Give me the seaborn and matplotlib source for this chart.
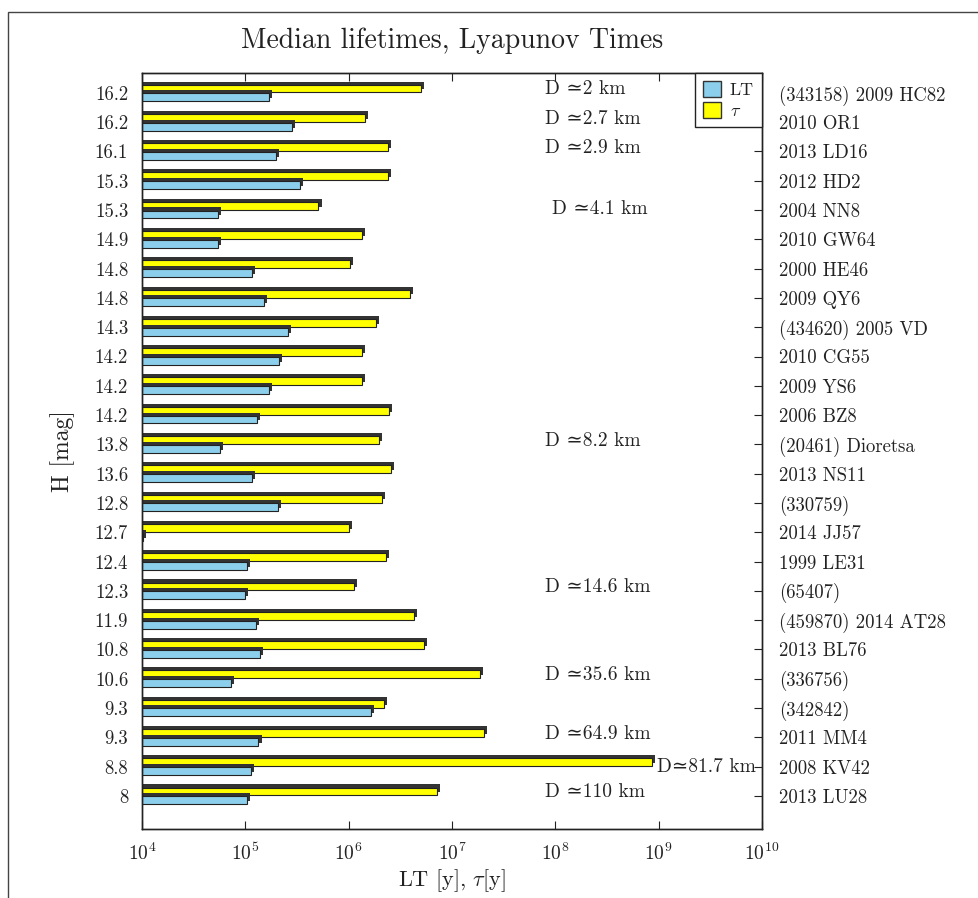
import numpy as np
import pandas as pd
import matplotlib
matplotlib.use("Agg")
import matplotlib.pyplot as plt
import matplotlib.patheffects as pe
from matplotlib.patches import Patch, Rectangle
from matplotlib.ticker import LogLocator, NullLocator
import seaborn as sns

# ---- data (top to bottom) ----
names = ["(343158) 2009 HC82", "2010 OR1", "2013 LD16", "2012 HD2", "2004 NN8",
         "2010 GW64", "2000 HE46", "2009 QY6", "(434620) 2005 VD", "2010 CG55",
         "2009 YS6", "2006 BZ8", "(20461) Dioretsa", "2013 NS11", "(330759)",
         "2014 JJ57", "1999 LE31", "(65407)", "(459870) 2014 AT28", "2013 BL76",
         "(336756)", "(342842)", "2011 MM4", "2008 KV42", "2013 LU28"]
H_mag = ["16.2", "16.2", "16.1", "15.3", "15.3", "14.9", "14.8", "14.8", "14.3", "14.2",
         "14.2", "14.2", "13.8", "13.6", "12.8", "12.7", "12.4", "12.3", "11.9", "10.8",
         "10.6", "9.3", "9.3", "8.8", "8"]
LT = [1.7e5, 2.8e5, 2.0e5, 3.4e5, 5.4e4, 5.4e4, 1.16e5, 1.5e5, 2.6e5, 2.1e5,
      1.7e5, 1.29e5, 5.7e4, 1.17e5, 2.07e5, 1.03e4, 1.03e5, 9.9e4, 1.26e5, 1.4e5,
      7.2e4, 1.66e6, 1.34e5, 1.14e5, 1.03e5]
tau = [5.0e6, 1.43e6, 2.4e6, 2.4e6, 5.1e5, 1.34e6, 1.02e6, 3.9e6, 1.84e6, 1.34e6,
       1.34e6, 2.46e6, 1.95e6, 2.57e6, 2.1e6, 1.01e6, 2.3e6, 1.12e6, 4.25e6, 5.3e6,
       1.85e7, 2.2e6, 2.03e7, 8.6e8, 7.2e6]
diam_labels = {0: "2", 1: "2.7", 2: "2.9", 4: "4.1", 12: "8.2", 17: "14.6",
               20: "35.6", 22: "64.9", 23: "81.7", 24: "110"}

sns.set_style("ticks")
plt.rcParams["font.family"] = ["cmr10", "DejaVu Serif"]
plt.rcParams["mathtext.fontset"] = "cm"
plt.rcParams["axes.formatter.use_mathtext"] = True
plt.rcParams["axes.unicode_minus"] = False
plt.rcParams["text.color"] = "#222222"
plt.rcParams["xtick.color"] = "#222222"
plt.rcParams["ytick.color"] = "#222222"
plt.rcParams["axes.labelcolor"] = "#222222"

blue = "#8ccfec"
yellow = "#ffff00"

df = pd.DataFrame({
    "name": names * 2,
    "value": tau + LT,
    "series": ["tau"] * len(names) + ["LT"] * len(names),
})

fig = plt.figure(figsize=(9.79, 8.98), dpi=100)
ax = fig.add_axes([142 / 979, 1 - 829 / 898, 620 / 979, (829 - 73) / 898])

sns.barplot(data=df, y="name", x="value", hue="series", hue_order=["tau", "LT"],
            palette={"tau": yellow, "LT": blue}, orient="h", order=names,
            width=0.6, gap=0.1, errorbar=None, legend=False, ax=ax,
            edgecolor="#222222", linewidth=0.8, saturation=1)
ax.set_xscale("log")
ax.set_xlim(1e4, 1e10)
ax.set_ylim(25.13, -0.68)

for p in ax.patches:
    p.set_path_effects([pe.SimplePatchShadow(offset=(2.2, 2.2), shadow_rgbFace="#333333", alpha=1.0),
                        pe.Normal()])

ax.xaxis.set_major_locator(LogLocator(base=10, numticks=10))
ax.xaxis.set_minor_locator(NullLocator())
ax.set_yticks(range(len(names)))
ax.set_yticklabels(H_mag, fontsize=13.5)
ax.tick_params(axis="x", which="major", direction="in", top=True, length=6, labelsize=14, pad=10)
ax.tick_params(axis="y", direction="in", left=True, right=False, length=6, pad=10)
for s in ax.spines.values():
    s.set_linewidth(1.0)
    s.set_color("#222222")

ax2 = ax.twinx()
ax2.set_ylim(ax.get_ylim())
ax2.set_yticks(range(len(names)))
ax2.set_yticklabels(names, fontsize=13.5)
ax2.tick_params(axis="y", direction="in", length=6, pad=12)
for s in ax2.spines.values():
    s.set_linewidth(1.0)
    s.set_color("#222222")

for i, d in diam_labels.items():
    if i == 23:
        ax.text(9.6e8, i + 0.02, "D\u2243" + d + " km", fontsize=14, va="center", ha="left")
    elif i == 4:
        ax.text(9.3e7, i - 0.05, "D \u2243" + d + " km", fontsize=14, va="center", ha="left")
    else:
        ax.text(7.9e7, i - 0.12, "D \u2243" + d + " km", fontsize=14, va="center", ha="left")

ax.set_xlabel(r"LT [y], $\tau$[y]", fontsize=16, labelpad=2)
ax.set_ylabel("H [mag]", fontsize=17, labelpad=14)
ax.set_title("Median lifetimes, Lyapunov Times", fontsize=20, pad=18)

handles = [Patch(facecolor=blue, edgecolor="#333333", linewidth=1.0),
           Patch(facecolor=yellow, edgecolor="#333333", linewidth=1.0)]
leg = ax2.legend(handles, ["LT", r"$\tau$"], loc="upper right", borderaxespad=0,
                 fancybox=False, framealpha=1, edgecolor="#222222", fontsize=13,
                 handlelength=1.0, handleheight=1.0, handletextpad=0.5,
                 borderpad=0.45, labelspacing=0.2)
leg.get_frame().set_linewidth(1.0)

fig.patches.append(Rectangle((8 / 979, -0.1), 1.2, 1.1 - 12 / 898, transform=fig.transFigure,
                             fill=False, edgecolor="#444444", linewidth=1.0))

fig.savefig("out.png", dpi=100)
